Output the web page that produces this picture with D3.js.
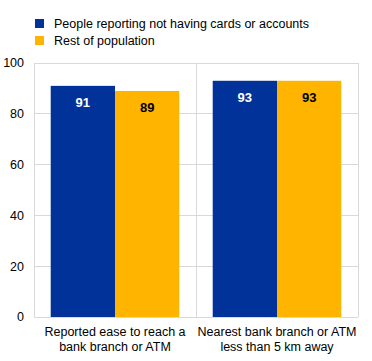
<!DOCTYPE html>
<html><head><meta charset="utf-8">
<script src="https://cdn.jsdelivr.net/npm/d3@7"></script>
<style>body{margin:0;background:#fff;font-family:"Liberation Sans",Arial,sans-serif;}</style>
</head><body><svg id="c" width="372" height="361"></svg>
<script>
const categories = [["Reported ease to reach a","bank branch or ATM"],["Nearest bank branch or ATM","less than 5 km away"]];
const seriesNames = ["People reporting not having cards or accounts","Rest of population"];
const seriesColors = ["#003299","#FFB400"];
const labelColors = ["#ffffff","#000000"];
const values = [[91,93],[89,93]];
const yTicks = [0,20,40,60,80,100];

const svg = d3.select("#c");
const m = {l:34, r:358, t:63, b:317};
const x0 = d3.scaleBand().domain(d3.range(categories.length)).range([m.l, m.r]).paddingInner(0).paddingOuter(0);
const x1 = d3.scaleBand().domain(d3.range(seriesNames.length)).range([0, x0.bandwidth()]).paddingOuter(0.26).paddingInner(0);
const y = d3.scaleLinear().domain([0,100]).range([m.b, m.t]);
const grid = "#d9d9d9";

// gridlines
svg.append("g").selectAll("line").data(yTicks).join("line")
  .attr("x1", m.l).attr("x2", m.r).attr("y1", d=>y(d)).attr("y2", d=>y(d))
  .attr("stroke", grid).attr("stroke-width",1).attr("shape-rendering","crispEdges");
// frame verticals
const vx = [m.l, ...d3.range(1,categories.length).map(i=>x0(i)), m.r];
svg.append("g").selectAll("line").data(vx).join("line")
  .attr("x1", d=>d).attr("x2", d=>d).attr("y1", m.t).attr("y2", m.b)
  .attr("stroke", grid).attr("stroke-width",1).attr("shape-rendering","crispEdges");

// y tick labels
svg.append("g").selectAll("text").data(yTicks).join("text")
  .attr("x", 24).attr("y", d=>y(d)).attr("dy","0.35em").attr("text-anchor","end")
  .attr("font-size",12.5).attr("fill","#000").text(d=>d);

// bars
seriesNames.forEach((s,si)=>{
  const g = svg.append("g");
  g.selectAll("rect").data(values[si]).join("rect")
    .attr("x",(d,i)=>x0(i)+x1(si)).attr("width",x1.bandwidth())
    .attr("y",d=>y(d)).attr("height",d=>y(0)-y(d)).attr("fill",seriesColors[si]);
  g.selectAll("text").data(values[si]).join("text")
    .attr("x",(d,i)=>x0(i)+x1(si)+x1.bandwidth()/2).attr("y",d=>y(d)+21)
    .attr("text-anchor","middle").attr("font-size",13).attr("font-weight","bold")
    .attr("fill",labelColors[si]).text(d=>d);
});

// category labels
categories.forEach((lines,i)=>{
  const t = svg.append("text").attr("text-anchor","middle").attr("font-size",12.5).attr("fill","#000");
  lines.forEach((ln,k)=>t.append("tspan").attr("x",x0(i)+x0.bandwidth()/2).attr("y",336+k*15).text(ln));
});

// legend
seriesNames.forEach((s,si)=>{
  svg.append("rect").attr("x",35).attr("y",19+si*17).attr("width",9).attr("height",9).attr("fill",seriesColors[si]);
  svg.append("text").attr("x",54).attr("y",24+si*17).attr("dy","0.35em").attr("font-size",12.5).attr("fill","#000").text(s);
});
</script></body></html>
